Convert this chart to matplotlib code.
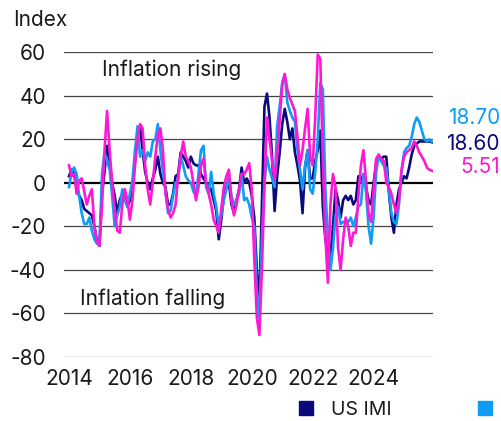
import numpy as np
import matplotlib
matplotlib.use("Agg")
import matplotlib.pyplot as plt
from matplotlib.lines import Line2D

plt.rcParams['font.family'] = ['Inter', 'DejaVu Sans']

# monthly index values, Jan 2014 - Dec 2025
us_imi = [
    3, 6, 4, -2, -6, -8, -12, -13, -14, -15, -20, -27,
    -29, -5, 5, 17, 10, 0, -6, -14, -8, -5, -5, -11,
    -8, -2, 10, 22, 26, 15, 5, 0, -3, 2, 6, 12,
    4, 0, -2, -10, -10, -5, 3, 4, 14, 12, 10, 7,
    12, 9, 8, 8, 4, 2, 0, -2, -3, -8, -13, -26,
    -17, -6, -2, 0, -10, -14, -8, -3, 7, 0, 2, 0,
    -6, -16, -40, -55, -10, 35, 41, 30, 12, -13, 3, 14,
    27, 34, 28, 20, 25, 14, 8, 1, -14, 7, 15, 2,
    2, 10, 15, 24, -11, -26, -33, -34, -20, -3, -8, -16,
    -8, -6, -8, -6, -10, -8, 3, 1, 4, -2, -8, -10,
    0, 9, 11, 11, 12, 12, -4, -16, -23, -10, -3, 0,
    3, 2, 7, 13, 17, 18, 19, 19, 19, 19, 19, 18.6,
]
europe_imi = [
    -2, 5, 7, 4, -6, -14, -19, -19, -16, -22, -26, -28,
    -28, 4, 14, 10, 6, -6, -20, -15, -11, -3, -8, -11,
    -5, 1, 15, 26, 12, 15, 10, 14, 12, 19, 20, 27,
    15, 5, -3, -14, -13, -6, 0, 1, 12, 8, 3, 1,
    0, -4, -6, 4, 15, 17, -2, -5, 5, -5, -11, -20,
    -15, -8, -3, 3, -6, -10, -8, -5, 4, -8, -7, -10,
    -16, -20, -50, -62, -25, 0, 12, 6, 2, -2, 26, 35,
    46, 50, 37, 33, 30, 28, 15, 6, -3, 8, 15, -3,
    -5, 5, 20, 46, 43, -3, -25, -40, -30, -15, -11, -19,
    -18, -18, -18, -16, -20, -16, -11, -10, 4, -4, -20, -28,
    -16, 5, 12, 10, 8, 7, -3, -14, -18, -19, -10, 5,
    14, 16, 17, 21, 27, 30, 28, 24, 20, 19, 20, 18.7,
]
uk_imi = [
    8, 3, 4, -5, 1, 2, -4, -10, -6, -3, -20, -27,
    -29, -10, 15, 33, 15, 0, -12, -22, -23, -10, -3, -8,
    -17, -8, 8, 20, 27, 25, 8, -3, -10, 0, 12, 22,
    25, 15, -5, -12, -16, -14, -10, 3, 12, 19, 12, 10,
    7, 0, -8, -2, 8, 11, 0, -5, -10, -17, -20, -23,
    -12, -2, 3, 6, -8, -15, -10, -3, 4, 4, 6, 9,
    -3, -35, -62, -70, -40, 0, 30, 20, 10, 1, 12, 29,
    45, 50, 43, 39, 36, 33, 21, 8, 15, 25, 34, 12,
    8, 30, 59, 57, 10, -25, -46, -10, 4, -2, -30, -40,
    -26, -16, -20, -29, -23, -23, -6, 8, 15, 1, -14, -18,
    -3, 11, 13, 11, 10, 0, -2, -5, -10, -14, -8, 6,
    12, 14, 15, 16, 19, 17, 14, 12, 10, 7, 6, 5.51,
]
series_names = ['US IMI', 'Europe IMI', 'UK IMI']
colors = ['#0a0a7d', '#0f9cf5', '#ff17d6']
end_labels = ['18.60', '18.70', '5.51']
year_ticks = [2014, 2016, 2018, 2020, 2022, 2024]
y_ticks = [-80, -60, -40, -20, 0, 20, 40, 60]

t = 2014 + np.arange(len(us_imi)) / 12

fig = plt.figure(figsize=(5.01, 4.21), dpi=100)
ax = fig.add_axes([64 / 501, 1 - 356.7 / 421, 369 / 501, 304.4 / 421])

for v in y_ticks:
    if v == 0:
        ax.axhline(v, color='black', lw=1.6, zorder=1)
    else:
        ax.axhline(v, color='#444444', lw=0.9, zorder=1)

for vals, c in zip([us_imi, europe_imi, uk_imi], colors):
    ax.plot(t, vals, color=c, lw=1.9, zorder=2)

ax.set_xlim(2014 - 5 / 30.46, 2014 + 364 / 30.46)
ax.set_ylim(-80, 60)
ax.set_yticks(y_ticks)
ax.set_yticklabels([str(v) for v in y_ticks])
ax.set_xticks(year_ticks)
ax.set_xticklabels([str(y) for y in year_ticks])
ax.tick_params(length=0, labelsize=15, colors='#1a1a1a')
ax.tick_params(axis='y', pad=13)
ax.tick_params(axis='x', pad=9)
for s in ax.spines.values():
    s.set_visible(False)

ax.text(0.293, 0.942, 'Inflation rising', transform=ax.transAxes,
        ha='center', va='center', fontsize=15, color='#1a1a1a')
ax.text(0.241, 0.19, 'Inflation falling', transform=ax.transAxes,
        ha='center', va='center', fontsize=15, color='#1a1a1a')

fig.text(13 / 501, 1 - 20 / 421, 'Index', ha='left', va='center',
         fontsize=15, color='#1a1a1a')

# end-of-series labels
label_y = [144, 118, 167]
for lab, c, yy in zip(end_labels, colors, label_y):
    fig.text(500 / 501, 1 - yy / 421, lab, ha='right', va='center',
             fontsize=15, color=c)

handles = [Line2D([], [], marker='s', linestyle='none', markersize=10,
                  color=c) for c in colors]
fig.legend(handles, series_names, loc='center left',
           bbox_to_anchor=(298 / 501, 1 - 410 / 421), ncol=3,
           frameon=False, fontsize=14, handlelength=0.8, handletextpad=0.9,
           columnspacing=4.4, borderpad=0, borderaxespad=0,
           labelcolor='#1a1a1a')

fig.savefig('out.png', dpi=100)
